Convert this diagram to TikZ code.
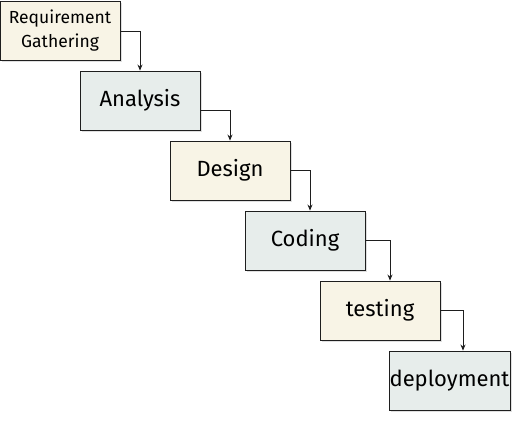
\documentclass[tikz,border=0pt]{standalone}
\usepackage{fontspec}
\setmainfont{Fira Sans}
\usetikzlibrary{arrows.meta,shadows}
\definecolor{cream}{RGB}{248,244,230}
\definecolor{sage}{RGB}{231,237,235}
\definecolor{ink}{RGB}{30,30,30}
\tikzset{
  stage/.style={draw=ink, line width=0.9pt, minimum width=120pt, minimum height=59pt,
    inner sep=0pt, font=\fontsize{22}{24}\selectfont, align=center,
    drop shadow={shadow xshift=2pt, shadow yshift=-2pt, opacity=0.25}},
  warm/.style={stage, fill=cream},
  cool/.style={stage, fill=sage},
  flow/.style={draw=ink, line width=0.7pt, -{Stealth[length=6pt,width=5pt]}}
}
\begin{document}
\begin{tikzpicture}[x=1pt,y=-1pt]
\useasboundingbox (0,0) rectangle (523,422);
\node[warm, font=\fontsize{17.5}{24}\selectfont] (req) at (60,31) {Requirement\\Gathering};
\node[cool] (ana) at (140,100.5) {Analysis};
\node[warm] (des) at (230,170.5) {Design};
\node[cool] (cod) at (305,240.5) {Coding};
\node[warm] (tes) at (380,310.5) {testing};
\node[cool, minimum width=121pt] (dep) at (449.5,380.5) {deployment};
\draw[flow] (req.east |- 0,31) -| (ana.north);
\draw[flow] (ana.east |- 0,110) -| (des.north);
\draw[flow] (des.east |- 0,170) -| (cod.north -| 310,0);
\draw[flow] (cod.east |- 0,240) -| (tes.north -| 390,0);
\draw[flow] (tes.east |- 0,310) -| (dep.north -| 463,0);
\end{tikzpicture}
\end{document}
